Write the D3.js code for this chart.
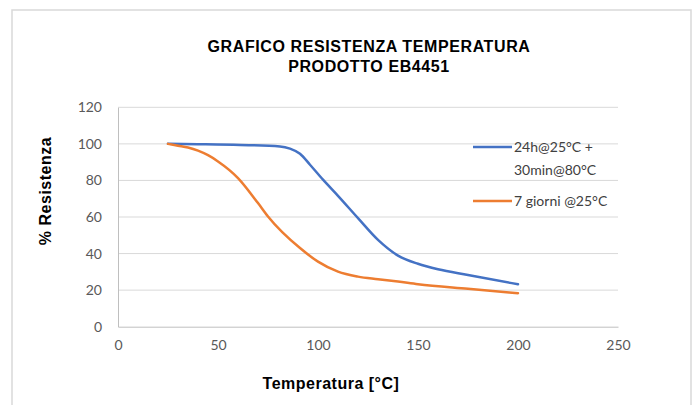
<!DOCTYPE html>
<html>
<meta charset="utf-8">
<script src="https://d3js.org/d3.v7.min.js"></script>
<style>
  body { margin: 0; background: #fff; }
  .tick text { font-family: Lato, "Open Sans", sans-serif; font-size: 14px; fill: #595959; }
</style>
<body>
<script>
// temperature (°C) vs % resistance
const blueTemp = [25, 40, 61, 81, 86, 91, 96, 102.5, 110, 120, 130, 140, 150, 160, 175, 200];
const blueRes  = [100, 99.8, 99.4, 98.6, 97.4, 94.6, 88.6, 80.4, 71.6, 59.4, 47.5, 38.9, 34.4, 31.4, 28.3, 23.2];

const orangeTemp = [25, 30, 35, 40, 45, 50, 60, 70, 75, 91, 100, 110, 120, 130, 140, 150, 175, 200];
const orangeRes  = [100, 99, 98, 96.3, 93.8, 90.4, 81.3, 67.6, 60.3, 43, 35.6, 30.1, 27.4, 26, 24.7, 23.2, 20.7, 18.3];

const seriesNames = ["24h@25°C +", "30min@80°C"];
const seriesName2 = "7 giorni @25°C";
const xTicks = [0, 50, 100, 150, 200, 250];
const yTicks = [0, 20, 40, 60, 80, 100, 120];

const W = 698, H = 405;
const x = d3.scaleLinear().domain([0, 250]).range([118, 618]);
const y = d3.scaleLinear().domain([0, 120]).range([326.7, 107.3]);

const svg = d3.select('body').append('svg')
  .attr('width', W).attr('height', H);

// chart frame
svg.append('rect')
  .attr('x', 12).attr('y', 10)
  .attr('width', 679).attr('height', 420)
  .attr('fill', '#fff').attr('stroke', '#d9d9d9').attr('stroke-width', 1.5);

// gridlines
svg.append('g').selectAll('line').data(yTicks.filter(d => d > 0))
  .enter().append('line')
  .attr('x1', x(0)).attr('x2', x(250))
  .attr('y1', d => y(d)).attr('y2', d => y(d))
  .attr('stroke', '#d9d9d9').attr('stroke-width', 1);

const yAxis = d3.axisLeft(y).tickValues(yTicks).tickSize(0).tickPadding(16);
const gy = svg.append('g').attr('transform', `translate(${x(0)},0)`).call(yAxis);
gy.select('.domain').attr('stroke', '#bfbfbf');

const xAxis = d3.axisBottom(x).tickValues(xTicks).tickSize(0).tickPadding(13);
const gx = svg.append('g').attr('transform', `translate(0,${y(0)})`).call(xAxis);
gx.select('.domain').attr('stroke', '#bfbfbf');

const line = d3.line().curve(d3.curveMonotoneX);

svg.append('path')
  .attr('d', line(blueTemp.map((t, i) => [x(t), y(blueRes[i])])))
  .attr('fill', 'none').attr('stroke', '#4472c4').attr('stroke-width', 2.5)
  .attr('stroke-linecap', 'round');

svg.append('path')
  .attr('d', line(orangeTemp.map((t, i) => [x(t), y(orangeRes[i])])))
  .attr('fill', 'none').attr('stroke', '#ed7d31').attr('stroke-width', 2.5)
  .attr('stroke-linecap', 'round');

// title
const title = svg.append('text')
  .attr('text-anchor', 'middle')
  .style('font-family', '"Liberation Sans", Arial, sans-serif')
  .style('font-weight', 'bold').style('font-size', '16px')
  .style('letter-spacing', '0.6px').style('fill', '#000');
title.append('tspan').attr('x', 369).attr('y', 52).text('GRAFICO RESISTENZA TEMPERATURA');
title.append('tspan').attr('x', 369).attr('y', 72).text('PRODOTTO EB4451');

// axis titles
svg.append('text')
  .attr('x', 331).attr('y', 389)
  .attr('text-anchor', 'middle')
  .style('font-family', '"Liberation Sans", Arial, sans-serif')
  .style('font-weight', 'bold').style('font-size', '16px')
  .style('letter-spacing', '0.5px')
  .text('Temperatura [°C]');

svg.append('text')
  .attr('transform', 'translate(51,191) rotate(-90)')
  .attr('text-anchor', 'middle')
  .style('font-family', '"Liberation Sans", Arial, sans-serif')
  .style('font-weight', 'bold').style('font-size', '16px')
  .style('letter-spacing', '0.5px')
  .text('% Resistenza');

// legend
const lg = svg.append('g')
  .style('font-family', 'Lato, "Open Sans", sans-serif')
  .style('font-size', '14px').style('fill', '#404040');
lg.append('line').attr('x1', 473).attr('x2', 512).attr('y1', 147).attr('y2', 147)
  .attr('stroke', '#4472c4').attr('stroke-width', 2.5);
lg.append('text').attr('x', 514).attr('y', 152).text(seriesNames[0]);
lg.append('text').attr('x', 514).attr('y', 175).text(seriesNames[1]);
lg.append('line').attr('x1', 473).attr('x2', 512).attr('y1', 201).attr('y2', 201)
  .attr('stroke', '#ed7d31').attr('stroke-width', 2.5);
lg.append('text').attr('x', 514).attr('y', 206).text(seriesName2);
</script>
</body>
</html>
